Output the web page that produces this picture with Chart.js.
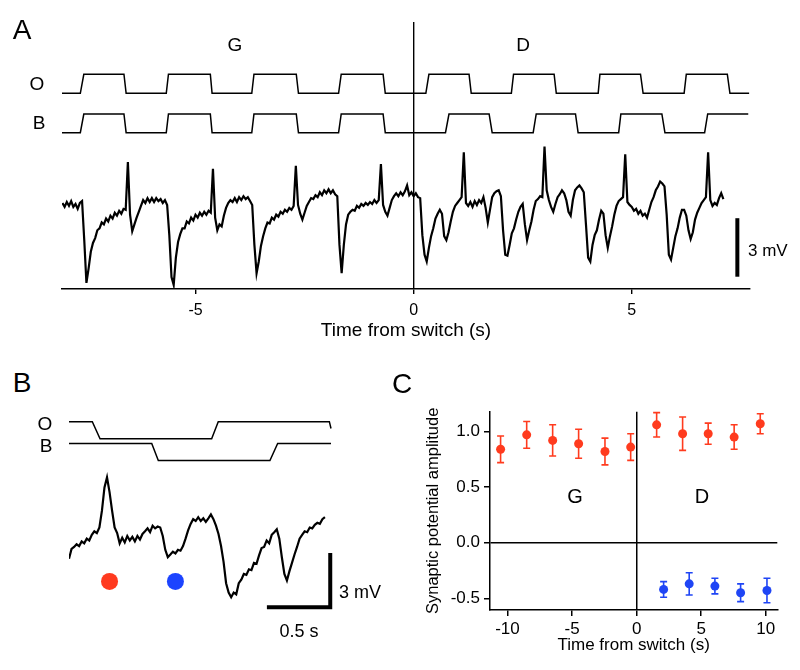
<!DOCTYPE html>
<html>
<head>
<meta charset="utf-8">
<script src="https://cdn.jsdelivr.net/npm/chart.js@4"></script>
<style>
  html, body { margin: 0; padding: 0; background: #fff; }
  #wrap { position: relative; width: 800px; height: 670px; overflow: hidden; font-family: 'Liberation Sans', Arial, Helvetica, sans-serif; color: #000; }
  canvas { position: absolute; }
  .lbl { position: absolute; line-height: 1; white-space: nowrap; transform: translate(-50%, -50%); }
  .lft { transform: translate(0, -50%); }
</style>
</head>
<body>
<div id="wrap">
  <canvas id="chartA" width="800" height="345" style="left:0;top:0"></canvas>
  <canvas id="chartB" width="380" height="240" style="left:0;top:400px"></canvas>
  <canvas id="chartC" width="420" height="310" style="left:380px;top:360px"></canvas>

  <div class="lbl" style="left:22px;top:30px;font-size:28px">A</div>
  <div class="lbl" style="left:235px;top:44px;font-size:19px">G</div>
  <div class="lbl" style="left:523px;top:44px;font-size:19px">D</div>
  <div class="lbl" style="left:37px;top:83px;font-size:19px">O</div>
  <div class="lbl" style="left:39px;top:122px;font-size:19px">B</div>
  <div class="lbl lft" style="left:748px;top:250px;font-size:17px">3 mV</div>

  <div class="lbl" style="left:22px;top:383px;font-size:28px">B</div>
  <div class="lbl" style="left:45px;top:423px;font-size:19px">O</div>
  <div class="lbl" style="left:46px;top:445px;font-size:19px">B</div>
  <div class="lbl lft" style="left:339px;top:592px;font-size:18px">3 mV</div>
  <div class="lbl" style="left:299px;top:631px;font-size:18px">0.5 s</div>

  <div class="lbl" style="left:402px;top:384px;font-size:28px">C</div>
  <div class="lbl" style="left:575px;top:496px;font-size:20px">G</div>
  <div class="lbl" style="left:702px;top:496px;font-size:20px">D</div>
</div>
<script>
// ---- Panel A: stimulus steps (s, level 0/1) ----
const stimTimesOA = [-8.07,-7.64,-7.56,-6.64,-6.59,-5.67,-5.62,-4.66,-4.62,-3.71,-3.66,-2.69,-2.64,-1.72,-1.66,-0.70,-0.65,0.28,0.35,1.27,1.32,2.24,2.29,3.22,3.27,4.23,4.27,5.20,5.26,6.20,6.25,7.19,7.25,7.69];
const stimLevelsOA = [0,0,1,1,0,0,1,1,0,0,1,1,0,0,1,1,0,0,1,1,0,0,1,1,0,0,1,1,0,0,1,1,0,0];
const stimTimesBA = [-8.07,-7.64,-7.56,-6.64,-6.59,-5.67,-5.62,-4.66,-4.62,-3.71,-3.66,-2.69,-2.64,-1.72,-1.66,-0.70,-0.65,0.73,0.81,1.73,1.80,2.74,2.81,3.71,3.77,4.70,4.75,5.69,5.76,6.67,6.74,7.67];
const stimLevelsBA = [0,0,1,1,0,0,1,1,0,0,1,1,0,0,1,1,0,0,1,1,0,0,1,1,0,0,1,1,0,0,1,1];

// ---- Panel A: membrane potential (mV), sampled every 0.05 s from -8.05 s ----
const vmStartA = -8.05, vmStepA = 0.05;
const vmA = [
  0.1,-0.1,0.15,-0.05,0.2,-0.1,0.05,-0.2,0.1,0.2,
  -1.8,-4.0,-3.25,-2.4,-1.95,-1.7,-1.3,-1.2,-0.9,-1.0,
  -0.7,-0.85,-0.55,-0.7,-0.4,-0.55,-0.3,-0.45,-0.2,-0.25,
  2.2,-0.5,-1.35,-1.0,-0.65,-0.35,-0.05,0.25,0.1,0.35,
  0.15,0.35,0.15,0.35,0.2,0.3,0.1,0.25,0,-1.55,
  -3.7,-4.1,-2.7,-1.9,-1.5,-1.2,-1.2,-0.85,-0.95,-0.65,
  -0.8,-0.5,-0.65,-0.4,-0.55,-0.35,-0.5,-0.3,-0.4,1.85,
  -0.65,-1.3,-1.0,-1.1,-0.55,-0.15,0.1,0.25,0.15,0.35,
  0.15,0.4,0.25,0.45,0.3,0.4,0.2,0,-2.05,-3.5,
  -2.9,-2.1,-1.6,-1.2,-0.9,-0.95,-0.65,-0.75,-0.5,-0.6,
  -0.35,-0.45,-0.25,-0.35,-0.15,-0.25,-0.05,2.0,0,-0.45,
  -0.75,-0.4,-0.05,0.15,0.35,0.3,0.5,0.4,0.65,0.5,
  0.75,0.6,0.8,0.6,0.75,0.55,0.45,-2.05,-3.5,-2.05,
  -1.0,-0.5,-0.35,-0.25,-0.3,-0.05,-0.15,0.05,-0.05,0.1,
  0,0.15,0.05,0.25,0.1,0.25,2.1,0,-0.35,-0.55,
  -0.15,0.25,0.45,0.6,0.45,0.65,0.5,0.7,1.0,0.5,
  0.65,0.45,0.6,0.4,0.35,-1.55,-2.55,-2.9,-2.2,-1.6,
  -1.2,-0.7,-0.45,-0.25,-0.45,-1.6,-1.8,-1.4,-0.85,-0.35,
  -0.05,0.1,0.25,0.4,2.7,0.1,-0.05,0.15,-0.1,0.2,
  0,0.25,0.1,0.4,-0.15,-0.9,-0.25,0.4,0.6,0.7,
  0.75,0.45,-1.3,-2.55,-2.6,-2.05,-1.45,-1.2,-0.75,-0.35,
  -0.1,0.05,-1.0,-1.8,-1.3,-0.85,-0.25,0.2,0.3,0.45,
  0.4,3.0,0.75,0.25,-0.1,-0.35,0.05,0.4,0.55,0.75,
  0.6,0.25,-0.35,-0.55,0.25,0.75,0.9,1.0,0.85,0.65,
  -1.0,-2.7,-2.9,-2.05,-1.55,-1.3,-0.75,-0.3,-0.45,-1.55,
  -2.2,-1.6,-1.1,-0.5,-0.05,0.2,0.3,0.4,2.6,0.15,
  0,-0.1,-0.3,-0.2,-0.45,-0.3,-0.55,-0.45,-0.65,-0.25,
  0.15,0.4,0.75,0.95,1.2,1.1,0.95,-0.5,-2.55,-2.8,
  -2.2,-1.6,-1.2,-0.65,-0.25,-0.25,-0.55,-1.3,-1.75,-1.4,
  -0.75,-0.4,-0.15,0.1,0.25,0.4,2.7,0.25,-0.05,0.1,
  0,0.35,0.6,0.3
];
const tickTimesA = [-5, 0, 5];

// ---- Panel B: one cycle, time from 0 s ----
const stimTimesOB = [0, 0.184, 0.245, 1.126, 1.178, 2.055, 2.068];
const stimLevelsOB = [1, 1, 0, 0, 1, 1, 0.6];
const stimTimesBB = [0, 0.653, 0.705, 1.586, 1.647, 2.068];
const stimLevelsBB = [1, 1, 0, 0, 1, 1];
const vmStartB = 0, vmStepB = 0.02;
const vmB = [
  -1.12,-0.57,-0.46,-0.31,-0.41,-0.15,-0.26,0,-0.1,0.21,
  0.41,0.31,0.62,1.55,2.84,3.4,2.58,1.55,0.62,0.31,
  -0.26,0.05,-0.21,0.15,-0.1,0.1,-0.15,0.15,-0.05,0.26,
  0.41,0.57,0.36,0.72,0.57,0.67,0.62,0.15,-0.62,-1.03,
  -0.88,-0.72,-0.82,-0.62,-0.67,-0.41,0,0.46,0.82,1.08,
  0.98,1.19,0.98,1.13,0.93,1.13,1.34,1.08,0.72,0.26,
  -0.41,-1.29,-2.47,-2.99,-3.25,-2.99,-3.09,-2.47,-2.27,-1.96,
  -2.01,-1.7,-1.75,-1.34,-1.39,-0.93,-0.52,-0.46,-0.1,-0.26,
  0.21,0.36,0.52,0,-1.03,-1.96,-2.32,-1.8,-1.34,-0.88,
  -0.46,0,0.21,0.41,0.36,0.62,0.57,0.77,0.88,0.82,
  1.08,1.19
];
const markTimesB = [0.32, 0.84];
const markLevelB = -2.37;

// ---- Panel C: amplitude vs time from switch ----
const timesRed = [-10.53,-8.51,-6.50,-4.49,-2.45,-0.46,1.55,3.56,5.54,7.55,9.57];
const ampRed   = [0.84,0.97,0.92,0.89,0.82,0.86,1.06,0.98,0.98,0.95,1.07];
const errRed   = [0.12,0.12,0.14,0.13,0.12,0.12,0.11,0.15,0.095,0.11,0.09];
const timesBlue = [2.09,4.07,6.06,8.05,10.09];
const ampBlue   = [-0.42,-0.37,-0.39,-0.45,-0.43];
const errBlue   = [0.07,0.10,0.07,0.08,0.11];
const tickTimesC = [-10, -5, 0, 5, 10];
const tickAmpC = [-0.5, 0, 0.5, 1.0];

Chart.defaults.font.family = "'Liberation Sans', Arial, Helvetica, sans-serif";
Chart.defaults.color = '#000';

const pts = (xs, ys) => xs.map((x, i) => ({x: x, y: ys[i]}));
const sampled = (start, step, vs) => vs.map((v, i) => ({x: start + i * step, y: v}));
const fixTicks = arr => (axis => { axis.ticks = arr.map(v => ({value: v})); });
const zeroGrid = ctx => (ctx.tick && ctx.tick.value === 0) ? '#000' : 'rgba(0,0,0,0)';

// vertical / L-shaped scale bars, in data units
const scaleBars = {
  id: 'scaleBars',
  afterDatasetsDraw(chart, args, opts) {
    const {ctx, scales} = chart;
    const x = scales.x, y = scales.yV;
    ctx.save();
    ctx.strokeStyle = '#000';
    ctx.lineWidth = 4;
    ctx.lineJoin = 'miter';
    ctx.beginPath();
    if (opts.tLen) {
      ctx.moveTo(x.getPixelForValue(opts.t), y.getPixelForValue(opts.v));
      ctx.lineTo(x.getPixelForValue(opts.t + opts.tLen), y.getPixelForValue(opts.v));
      ctx.lineTo(x.getPixelForValue(opts.t + opts.tLen), y.getPixelForValue(opts.v + opts.vLen));
    } else {
      ctx.moveTo(x.getPixelForValue(opts.t), y.getPixelForValue(opts.v));
      ctx.lineTo(x.getPixelForValue(opts.t), y.getPixelForValue(opts.v + opts.vLen));
    }
    ctx.stroke();
    ctx.restore();
  }
};

const errorBars = {
  id: 'errorBars',
  beforeDatasetsDraw(chart) {
    const {ctx, scales: {x, y}} = chart;
    chart.data.datasets.forEach(ds => {
      if (!ds.errors) return;
      ctx.save();
      ctx.strokeStyle = ds.backgroundColor;
      ctx.lineWidth = 1.6;
      ds.data.forEach((p, i) => {
        const px = x.getPixelForValue(p.x);
        const y1 = y.getPixelForValue(p.y + ds.errors[i]);
        const y2 = y.getPixelForValue(p.y - ds.errors[i]);
        ctx.beginPath();
        ctx.moveTo(px, y1); ctx.lineTo(px, y2);
        ctx.moveTo(px - 3.5, y1); ctx.lineTo(px + 3.5, y1);
        ctx.moveTo(px - 3.5, y2); ctx.lineTo(px + 3.5, y2);
        ctx.stroke();
      });
      ctx.restore();
    });
  }
};

const traceStyle = { borderColor: '#000', borderWidth: 1.5, pointRadius: 0, tension: 0, fill: false };

// Panel A
new Chart(document.getElementById('chartA'), {
  type: 'line',
  data: {
    datasets: [
      Object.assign({ data: pts(stimTimesOA, stimLevelsOA), yAxisID: 'yO' }, traceStyle),
      Object.assign({ data: pts(stimTimesBA, stimLevelsBA), yAxisID: 'yB' }, traceStyle),
      Object.assign({ data: sampled(vmStartA, vmStepA, vmA), yAxisID: 'yV' }, traceStyle, { borderWidth: 2.2 })
    ]
  },
  options: {
    responsive: false, animation: false,
    layout: { padding: { left: 62, right: 50, top: 22, bottom: 2.6 } },
    plugins: { legend: { display: false }, tooltip: { enabled: false },
      scaleBars: { t: 7.42, v: -3.68, vLen: 3 } },
    scales: {
      x: {
        type: 'linear', min: -8.06, max: 7.71,
        afterBuildTicks: fixTicks(tickTimesA),
        afterFit: s => { s.height = 53.4; },
        border: { display: true, color: '#000', width: 1.4 },
        grid: { drawOnChartArea: true, color: zeroGrid, tickColor: '#000', lineWidth: 1.4, tickLength: 5 },
        ticks: { font: { size: 16 }, padding: 7, maxRotation: 0 },
        title: { display: true, text: 'Time from switch (s)', font: { size: 19 }, padding: 0 }
      },
      yO: { display: false, min: -10.3, max: 3.75 },
      yB: { display: false, min: -8.36, max: 5.92 },
      yV: { display: false, min: -4.31, max: 9.38 }
    }
  },
  plugins: [scaleBars]
});

// Panel B
new Chart(document.getElementById('chartB'), {
  type: 'line',
  data: {
    datasets: [
      Object.assign({ data: pts(stimTimesOB, stimLevelsOB), yAxisID: 'yO' }, traceStyle),
      Object.assign({ data: pts(stimTimesBB, stimLevelsBB), yAxisID: 'yB' }, traceStyle),
      Object.assign({ data: sampled(vmStartB, vmStepB, vmB), yAxisID: 'yV' }, traceStyle, { borderWidth: 2.2 }),
      { type: 'scatter', data: markTimesB.map(t => ({x: t, y: markLevelB})), yAxisID: 'yV',
        pointRadius: 8.5, borderWidth: 0, backgroundColor: ['#ff3a1f', '#1c44ff'] }
    ]
  },
  options: {
    responsive: false, animation: false,
    layout: { padding: { left: 69, right: 40, top: 0, bottom: 0 } },
    plugins: { legend: { display: false }, tooltip: { enabled: false },
      scaleBars: { t: 1.562, tLen: 0.5, v: -3.8, vLen: 3 } },
    scales: {
      x: { type: 'linear', display: false, min: 0, max: 2.139 },
      yO: { display: false, min: -11.27, max: 1.77 },
      yB: { display: false, min: -10.05, max: 3.06 },
      yV: { display: false, min: -5.15, max: 7.22 }
    }
  },
  plugins: [scaleBars]
});

// Panel C
new Chart(document.getElementById('chartC'), {
  type: 'scatter',
  data: {
    datasets: [
      { data: pts(timesRed, ampRed), errors: errRed, backgroundColor: '#ff3b1e', pointRadius: 4.5, borderWidth: 0 },
      { data: pts(timesBlue, ampBlue), errors: errBlue, backgroundColor: '#1f45f5', pointRadius: 4.5, borderWidth: 0 }
    ]
  },
  options: {
    responsive: false, animation: false,
    layout: { padding: { left: 43.4, right: 22.7, top: 51.7, bottom: 14.8 } },
    plugins: { legend: { display: false }, tooltip: { enabled: false } },
    scales: {
      x: {
        type: 'linear', min: -11.35, max: 10.89,
        afterBuildTicks: fixTicks(tickTimesC),
        afterFit: s => { s.height = 45.2; },
        border: { display: true, color: '#000', width: 1.5 },
        grid: { drawOnChartArea: true, color: zeroGrid, tickColor: '#000', lineWidth: 1.5, tickLength: 6 },
        ticks: { font: { size: 17 }, padding: 3, maxRotation: 0 },
        title: { display: true, text: 'Time from switch (s)', font: { size: 17 }, padding: 0 }
      },
      y: {
        type: 'linear', min: -0.605, max: 1.178,
        afterBuildTicks: fixTicks(tickAmpC),
        afterFit: s => { s.width = 66.6; },
        border: { display: true, color: '#000', width: 1.5 },
        grid: { drawOnChartArea: true, color: zeroGrid, tickColor: '#000', lineWidth: 1.5, tickLength: 6 },
        ticks: { font: { size: 17 }, padding: 4, callback: v => v.toFixed(1) },
        title: { display: true, text: 'Synaptic potential amplitude', font: { size: 16.5 }, padding: 0 }
      }
    }
  },
  plugins: [errorBars]
});
</script>
</body>
</html>
